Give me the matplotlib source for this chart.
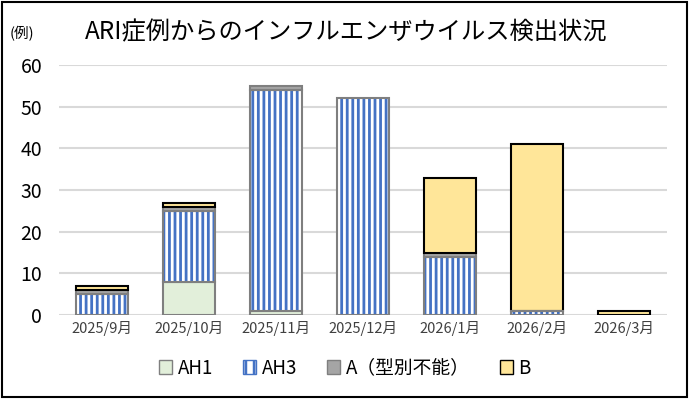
import matplotlib
matplotlib.use('Agg')
import matplotlib.pyplot as plt
from matplotlib.patches import Patch, Rectangle
import numpy as np

plt.rcParams['font.family'] = ['Noto Sans CJK JP', 'DejaVu Sans']
plt.rcParams['hatch.linewidth'] = 2.0

months = ['2025/9月', '2025/10月', '2025/11月', '2025/12月', '2026/1月', '2026/2月', '2026/3月']
ah1 = [0, 8, 1, 0, 0, 0, 0]
ah3 = [5, 17, 53, 52, 14, 1, 0]
a_untyped = [1, 1, 1, 0, 1, 0, 0]
b = [1, 1, 0, 0, 18, 40, 1]

c_ah1 = '#E2EFDA'
c_ah3 = '#4472C4'
c_a = '#A5A5A5'
c_b = '#FFE699'
edge = '#7F7F7F'

fig = plt.figure(figsize=(6.89, 3.99), dpi=100)
ax = fig.add_axes([59 / 689, 84 / 399, 608 / 689, 250 / 399])

x = np.arange(len(months))
w = 0.6
bottom = np.zeros(len(months))


def stack(vals, **kw):
    # skip empty segments so no outline is drawn for zero values
    vals = np.array(vals, dtype=float)
    m = vals > 0
    ax.bar(x[m], vals[m], w, bottom=bottom[m], **kw)


stack(ah1, color=c_ah1, edgecolor=edge, linewidth=1.5, zorder=3)
bottom += ah1
# AH3: blue stripes first, gray outline on top
stack(ah3, facecolor='white', edgecolor=c_ah3, hatch='|||', linewidth=0, zorder=3)
stack(ah3, fill=False, edgecolor=edge, linewidth=1.5, zorder=4)
bottom += ah3
stack(a_untyped, color=c_a, edgecolor=edge, linewidth=1.5, zorder=3)
bottom += a_untyped
stack(b, color=c_b, edgecolor='black', linewidth=1.5, zorder=3)

ax.set_xlim(-0.5, len(months) - 0.5)
ax.set_ylim(0, 60)
ax.set_yticks(range(0, 61, 10))
ax.set_xticks(x)
ax.set_xticklabels(months, fontsize=10.5, color='#404040')
ax.tick_params(axis='y', length=0, pad=12, labelsize=14)
ax.tick_params(axis='x', length=0, pad=4)
for s in ax.spines.values():
    s.set_visible(False)
ax.grid(axis='y', color='#D9D9D9', linewidth=1.5, zorder=0)
ax.set_axisbelow(True)

fig.text(85 / 689, 1 - 32 / 399, 'ARI症例からのインフルエンザウイルス検出状況',
         fontsize=17.5, ha='left', va='center')
fig.text(10 / 689, 1 - 34 / 399, '(例)', fontsize=10.5, ha='left', va='center')

handles = [
    Patch(facecolor=c_ah1, edgecolor=edge, label='AH1'),
    Patch(facecolor='white', edgecolor=c_ah3, hatch='||', label='AH3'),
    Patch(facecolor=c_a, edgecolor=edge, label='A（型別不能）'),
    Patch(facecolor=c_b, edgecolor='black', label='B'),
]
fig.legend(handles=handles, loc='center', bbox_to_anchor=(345 / 689, 1 - 368 / 399),
           ncol=4, frameon=False, fontsize=13.5, handlelength=0.7, handleheight=0.7,
           handletextpad=0.3, columnspacing=1.6)

fig.patches.append(Rectangle((0.003, 0.004), 0.994, 0.992, transform=fig.transFigure,
                             fill=False, edgecolor='black', linewidth=1.5))

fig.savefig('out.png', dpi=100)
